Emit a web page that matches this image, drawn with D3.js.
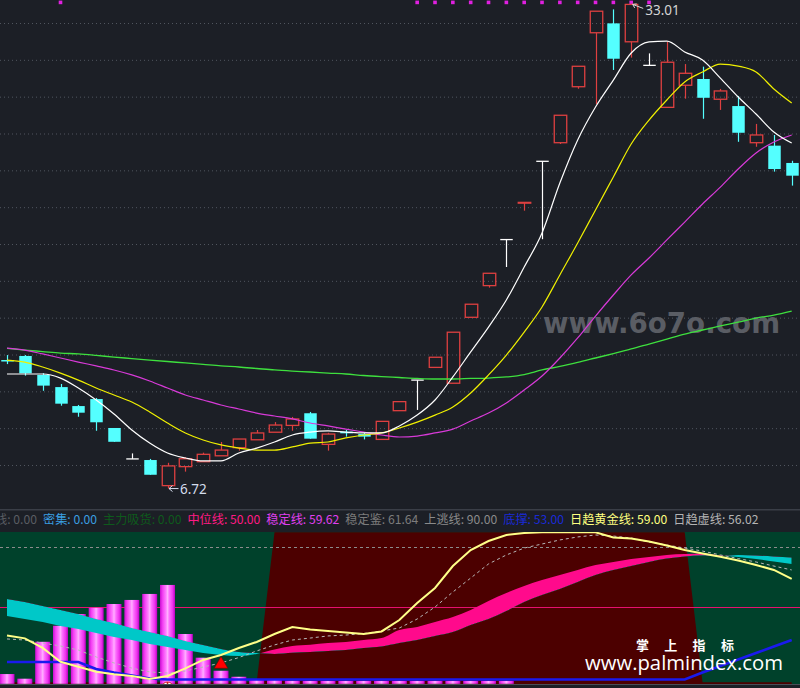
<!DOCTYPE html>
<html><head><meta charset="utf-8">
<script src="https://cdn.jsdelivr.net/npm/d3@7"></script>
<style>
html,body{margin:0;padding:0;background:#1c1f26;}
svg{display:block;}
</style></head><body>
<svg id="chart" width="800" height="688"></svg>
<script>
// ---------- price panel data (45 bars) ----------
const openP  = [13.70,13.92,12.89,12.23,11.20,11.58,10.01,8.33,8.27,6.88,7.91,8.18,8.50,8.94,9.37,9.78,10.15,10.81,9.12,9.81,9.68,9.39,10.95,12.61,13.30,12.44,16.02,17.74,20.24,22.25,24.49,25.50,28.54,31.47,31.98,30.98,29.70,27.42,28.62,28.96,27.86,27.49,25.50,25.34,24.40];
const closeP = [13.65,12.98,12.31,11.33,10.84,10.32,9.26,8.33,7.47,7.95,8.34,8.58,8.81,9.41,9.74,10.17,10.50,9.43,9.68,9.72,9.54,10.37,11.44,12.61,13.85,15.21,16.73,18.41,20.24,22.26,24.49,26.99,29.65,32.64,30.06,33.01,29.70,29.87,29.27,27.94,28.31,26.04,25.92,24.07,23.71];
const highP  = [13.97,13.97,12.99,12.40,11.26,11.64,10.01,8.63,8.33,8.12,8.43,8.67,9.25,9.41,9.90,10.33,10.61,10.88,9.75,9.90,9.75,10.37,11.44,12.61,13.85,15.21,16.73,18.41,20.24,22.26,24.49,26.99,29.65,32.64,32.74,33.01,30.35,30.98,29.77,29.63,28.42,28.04,26.52,25.92,24.52];
const lowP   = [13.48,12.85,12.03,11.22,10.62,9.86,9.26,8.33,7.47,6.72,7.64,8.18,8.50,8.78,9.37,9.78,9.86,9.43,8.78,9.54,9.39,9.39,10.95,10.99,13.30,12.44,16.02,17.63,18.75,21.81,20.26,25.43,28.43,27.60,29.45,30.12,29.70,27.42,27.89,26.80,27.28,25.55,25.28,23.93,23.17];
const ma5  = [12.94,12.94,12.94,12.72,12.18,11.53,10.77,9.90,9.19,8.65,8.38,8.22,8.22,8.65,8.92,9.25,9.63,9.79,9.85,9.79,9.74,9.74,10.12,10.71,11.53,12.78,14.14,15.49,16.96,18.75,20.60,23.31,25.65,27.44,28.90,30.37,30.97,31.02,30.43,29.99,29.01,27.98,27.06,26.08,25.48];
const ma10 = [13.70,13.59,13.32,12.99,12.61,12.18,11.80,11.42,10.88,10.28,9.74,9.36,9.09,8.92,8.81,8.81,8.98,9.19,9.25,9.47,9.63,9.74,10.01,10.33,10.71,11.15,11.91,12.89,13.97,15.22,16.58,18.32,20.05,21.85,23.64,25.43,26.73,27.82,28.80,29.34,29.77,29.66,29.34,28.42,27.66];
const ma20 = [14.35,14.24,14.03,13.81,13.59,13.38,13.16,12.89,12.56,12.18,11.80,11.53,11.26,11.04,10.82,10.66,10.50,10.28,10.12,9.95,9.79,9.63,9.52,9.57,9.74,9.95,10.39,10.82,11.37,12.07,12.83,13.81,14.90,16.09,17.23,18.32,19.24,20.22,21.19,22.17,23.09,24.07,24.94,25.54,25.92];
const ma60 = [14.33,14.24,14.16,14.08,14.03,13.95,13.86,13.78,13.70,13.62,13.54,13.46,13.38,13.32,13.24,13.16,13.10,13.05,12.99,12.94,12.86,12.80,12.75,12.70,12.67,12.67,12.70,12.72,12.78,12.91,13.16,13.35,13.57,13.81,14.05,14.30,14.57,14.84,15.11,15.33,15.55,15.76,15.98,16.14,16.36];
const priceTicks = [8,10,12,14,16,18,20,22,24,26,28,30,32];
const topSignals = [3,23,24,25,26,27,28,29,30,31,32,33,34,35,36];

// ---------- indicator panel data ----------
const histo   = [5.5,2.4,27,37.7,45.5,49.7,52.2,54.9,58.9,64.9,32.2,16.4,7.7,3.7,2,1.5,1.1,1,1,1,1,1,1,1,1,1,1,1,1,0,0,0,0,0,0,0,0,0,0,0,0,0,0,0,0];
const slowL   = [55.5,53.5,50.9,48.2,45.5,42.2,39.5,36.2,33.5,30.9,27.5,24.9,22.2,20.2,19.5,18.9,19.7,20.2,20.9,21.5,22.9,23.9,26.2,28.2,30.9,33.5,38.2,42.2,47.5,53.5,58.2,62.2,66.9,71.5,74.9,77.5,80.2,82.5,83.9,84.5,84.2,84.9,84.5,83.9,83.2];
const fastL   = [44.2,42.2,40.2,37.5,35.5,32.9,30.2,28.2,25.5,23.5,21.5,19.5,18.2,17.5,18.9,21.9,24.2,25.1,26.2,26.9,28.2,29.5,34.9,36.9,40.2,43.5,48.2,54.2,59.5,64.2,68.2,71.5,74.9,78.2,80.2,82.2,83.5,84.9,85.5,85.9,84.5,83.5,82.2,80.5,78.9];
const goldL   = [31.2,29.3,22.9,13.7,10.4,7.1,5.3,4.2,2.2,4.2,9.3,14.9,18.2,22.9,26.9,32.2,36.9,35.2,34.2,33.2,32.2,33.9,41.5,52.9,62.9,77.5,88.2,94.2,98.2,99.5,100,100,100,100,96.5,95.9,93.9,91.2,88.2,85.9,83.7,81.2,78.2,74.9,68.9];
const dashL   = [28.9,28.2,26.2,24.2,21.5,16.9,12.9,9.5,6.9,6.2,7.5,10.2,12.9,16.5,20.9,24.9,28.2,29.5,30.9,31.5,32.5,34.2,36.2,42.2,50.2,60.2,69.5,78.9,84.9,89.5,92.2,94.9,96.9,98.2,97.5,96.2,93.5,91.5,89.5,87.5,84.9,82.5,80.2,77.5,74.9];
const baseL   = [13.5,13.5,13.5,13.5,13.5,8.9,6.5,4.5,2.5,1.9,1.9,1.9,1.9,1.9,1.9,1.9,1.9,1.9,1.9,1.9,1.9,1.9,1.9,1.9,1.9,1.9,1.9,1.9,1.9,1.9,1.9,1.9,1.9,1.9,1.9,1.9,1.9,1.9,1.9,6.5,10.9,15.2,19.5,23.9,28.2];
const trendState = [0,0,0,0,0,0,0,0,0,0,0,0,0,0,0,100,100,100,100,100,100,100,100,100,100,100,100,100,100,100,100,100,100,100,100,100,100,100,100,0,0,0,0,0,0];
const buyMarks = [12];
const buyMarkVals = [12];
const circleMarks = [9];
const upperLevel = 90, midLevel = 50;

// legend
const legendNames  = ["线","密集","主力吸货","中位线","稳定线","稳定鉴","上逃线","底撑","日趋黄金线","日趋虚线"];
const legendValues = [0.00,0.00,0.00,50.00,59.62,61.64,90.00,53.00,59.00,56.02];
const legendColors = ["#5a5d63","#3a9ee0","#0e5a1c","#ff1a84","#e040f0","#7c7c7c","#8a8a8a","#1a2ad6","#ffff80","#b4b4b4"];

// ---------- drawing ----------
const W = 800, H = 688;
const BG = "#1c1f26";
const svg = d3.select("#chart");
svg.append("rect").attr("width",W).attr("height",H).attr("fill",BG);
const defs = svg.append("defs");
defs.append("clipPath").attr("id","clipTop").append("rect").attr("x",0).attr("y",0).attr("width",W).attr("height",509);
defs.append("clipPath").attr("id","clipBot").append("rect").attr("x",0).attr("y",532).attr("width",W).attr("height",152);

const n = closeP.length;
const idx = d3.range(n);
const x = d3.scaleLinear().domain([0, n-1]).range([7, 791.7]);
const yP = d3.scaleLinear().domain([8, 32]).range([465, 23]);
const yI = d3.scaleLinear().domain([0, 100]).range([682.3, 532.3]);
const step = x(1) - x(0);

// ===== top panel =====
const topG = svg.append("g").attr("clip-path","url(#clipTop)");
const grid = topG.append("g").call(d3.axisRight(yP).tickValues(priceTicks).tickSize(W).tickFormat(""));
grid.select(".domain").remove();
grid.selectAll("line").attr("stroke","#50555e").attr("stroke-dasharray","1,3");

// watermark
topG.append("text").attr("x",543).attr("y",333)
  .attr("font-family","DejaVu Sans, sans-serif").attr("font-weight","bold").attr("font-size",28)
  .attr("textLength",237).attr("lengthAdjust","spacingAndGlyphs")
  .attr("fill","#5a5d64").text("www.6o7o.com");

// signal squares
topG.selectAll("rect.sig").data(topSignals).join("rect").attr("class","sig")
  .attr("x",d=>x(d)-1.8).attr("y",0.6).attr("width",3.6).attr("height",3.6).attr("fill","#e020e0");

const RED = "#de4040", CYAN = "#54ffff", FLAT = "#ffffff";
const bw = step*0.7;
const cg = topG.append("g");
idx.forEach(i=>{
  const cx = Math.round(x(i)) + 0.5;
  const o = openP[i], c = closeP[i], h = highP[i], l = lowP[i];
  const g = cg.append("g");
  if (c > o) {
    const yt = yP(c), yb = yP(o);
    g.append("line").attr("x1",cx).attr("x2",cx).attr("y1",yP(h)).attr("y2",yt).attr("stroke",RED).attr("stroke-width",1.2);
    g.append("line").attr("x1",cx).attr("x2",cx).attr("y1",yb).attr("y2",yP(l)).attr("stroke",RED).attr("stroke-width",1.2);
    g.append("rect").attr("x",cx-bw/2).attr("y",yt).attr("width",bw).attr("height",Math.max(yb-yt,0.8))
      .attr("fill","none").attr("stroke",RED).attr("stroke-width",1.3);
  } else if (c < o) {
    g.append("line").attr("x1",cx).attr("x2",cx).attr("y1",yP(h)).attr("y2",yP(l)).attr("stroke",CYAN).attr("stroke-width",1.2);
    g.append("rect").attr("x",cx-bw/2).attr("y",yP(o)).attr("width",bw).attr("height",Math.max(yP(c)-yP(o),1.5)).attr("fill",CYAN);
  } else {
    g.append("line").attr("x1",cx).attr("x2",cx).attr("y1",yP(h)).attr("y2",yP(l)).attr("stroke",FLAT).attr("stroke-width",1.2);
    g.append("line").attr("x1",cx-bw/2).attr("x2",cx+bw/2).attr("y1",yP(o)).attr("y2",yP(o)).attr("stroke",FLAT).attr("stroke-width",1.3);
  }
});

const lineP = d3.line().x((d,i)=>x(i)).y(d=>yP(d)).curve(d3.curveMonotoneX);
[[ma60,"#3ee03e",1.3],[ma20,"#d83ad8",1.2],[ma10,"#f0f000",1.2],[ma5,"#ffffff",1.2]].forEach(([arr,col,w])=>{
  topG.append("path").attr("d",lineP(arr)).attr("fill","none").attr("stroke",col).attr("stroke-width",w);
});

// high / low labels
const hi = d3.maxIndex(highP), lo = d3.minIndex(lowP);
const hx = x(hi), hy = yP(highP[hi]);
topG.append("path").attr("d",`M${hx+1.5},${hy} L${hx+12},${hy+4} M${hx+1.5},${hy} l4,-0.5 M${hx+1.5},${hy} l2,3.5`)
  .attr("stroke","#d8d8d8").attr("fill","none").attr("stroke-width",1);
topG.append("text").attr("x",hx+14).attr("y",hy+10.5).attr("fill","#d4d4d4")
  .attr("font-family","Noto Sans, sans-serif").attr("font-size",13.5).text(d3.format(".2f")(highP[hi]));
const lx = x(lo), ly = yP(lowP[lo]);
topG.append("path").attr("d",`M${lx+1.5},${ly} L${lx+11},${ly} M${lx+1.5},${ly} l3.5,-3 M${lx+1.5},${ly} l3.5,3`)
  .attr("stroke","#d8e0f0").attr("fill","none").attr("stroke-width",1);
topG.append("text").attr("x",lx+12.5).attr("y",ly+5).attr("fill","#d4dcec")
  .attr("font-family","Noto Sans, sans-serif").attr("font-size",13.5).text(d3.format(".2f")(lowP[lo]));

// separator
svg.append("rect").attr("x",0).attr("y",509).attr("width",W).attr("height",1.5).attr("fill","#3a3e47");

// ===== legend row =====
const leg = svg.append("g").attr("font-family","Noto Sans CJK SC, sans-serif");
const items = legendNames.map((nm,k)=>({t: nm + ": " + d3.format(".2f")(legendValues[k]), c: legendColors[k]}));
const texts = leg.selectAll("text").data(items).join("text").attr("y",524).attr("fill",d=>d.c).text(d=>d.t);
const gap = 6, legStart = 43, legEnd = 759;
function measure(fs){
  texts.attr("font-size",fs);
  const w = []; texts.each(function(){ w.push(this.getComputedTextLength()); });
  return w;
}
let fs0 = 12.5;
let wv = measure(fs0);
const sumW = d3.sum(wv.slice(1));
const fs = fs0 * (legEnd - legStart - gap*(items.length-2)) / sumW;
wv = measure(fs);
const pos = [];
pos[1] = legStart;
for (let k=2;k<items.length;k++) pos[k] = pos[k-1] + wv[k-1] + gap;
pos[0] = pos[1] - gap - wv[0];
texts.attr("x",(d,k)=>pos[k]);

// ===== bottom panel =====
const bot = svg.append("g").attr("clip-path","url(#clipBot)");
bot.append("rect").attr("x",0).attr("y",532).attr("width",W).attr("height",152).attr("fill","#00412b");
bot.append("path").datum(trendState)
  .attr("d", d3.area().x((d,i)=>x(i)).y0(684).y1(d=>yI(d)))
  .attr("fill","#4c0000");

bot.append("line").attr("x1",0).attr("x2",W).attr("y1",Math.round(yI(upperLevel))+0.5).attr("y2",Math.round(yI(upperLevel))+0.5)
  .attr("stroke","#8c8c8c").attr("stroke-dasharray","3,3").attr("stroke-width",1);
bot.append("line").attr("x1",0).attr("x2",W).attr("y1",Math.round(yI(midLevel))+0.5).attr("y2",Math.round(yI(midLevel))+0.5)
  .attr("stroke","#e8106e").attr("stroke-width",1.2);

// bars with cylinder gradient
const grad = defs.append("linearGradient").attr("id","barGrad").attr("x1","0").attr("x2","1").attr("y1","0").attr("y2","0");
[[0,"#c810d0"],[0.18,"#f440f4"],[0.4,"#ff80ff"],[0.5,"#ffb0ff"],[0.62,"#ff70ff"],[0.85,"#ec30ec"],[1,"#b800c0"]].forEach(([o,c])=>
  grad.append("stop").attr("offset",o).attr("stop-color",c));
const barW = 15;
bot.selectAll("rect.bar").data(histo).join("rect").attr("class","bar")
  .attr("x",(d,i)=>x(i)-barW/2).attr("y",d=>yI(d)).attr("width",barW)
  .attr("height",d=>d>0 ? yI(0)-yI(d)+1.5 : 0).attr("fill","url(#barGrad)");

// band between fast & slow lines (difference chart)
const areaBand = d3.area().x((d,i)=>x(i)).y0((d,i)=>yI(fastL[i])).y1((d,i)=>yI(slowL[i])).curve(d3.curveMonotoneX);
const clipAbove = defs.append("clipPath").attr("id","clipAbove");
clipAbove.append("path").datum(slowL).attr("d", d3.area().x((d,i)=>x(i)).y0(520).y1(d=>yI(d)).curve(d3.curveMonotoneX));
const clipBelow = defs.append("clipPath").attr("id","clipBelow");
clipBelow.append("path").datum(slowL).attr("d", d3.area().x((d,i)=>x(i)).y0(700).y1(d=>yI(d)).curve(d3.curveMonotoneX));
bot.append("path").datum(idx).attr("d",areaBand).attr("fill","#ff0a8c").attr("clip-path","url(#clipAbove)");
bot.append("path").datum(idx).attr("d",areaBand).attr("fill","#00c8c8").attr("clip-path","url(#clipBelow)");

const lineI = d3.line().x((d,i)=>x(i)).y(d=>yI(d));
bot.append("path").attr("d",lineI(dashL)).attr("fill","none").attr("stroke","#b8b8b8").attr("stroke-width",1).attr("stroke-dasharray","3,3");
bot.append("path").attr("d",lineI(baseL)).attr("fill","none").attr("stroke","#1a1aee").attr("stroke-width",2.6);
bot.append("path").attr("d",lineI(goldL)).attr("fill","none").attr("stroke","#ffff88").attr("stroke-width",2);

// markers
bot.selectAll("path.buy").data(buyMarks).join("path").attr("class","buy")
  .attr("transform",(d,k)=>`translate(${x(d)},${yI(buyMarkVals[k])})`)
  .attr("d", d3.symbol().type(d3.symbolTriangle).size(80)).attr("fill","#ff0000").attr("stroke","#700000").attr("stroke-width",0.6);
circleMarks.forEach(d=>{
  bot.append("circle").attr("cx",x(d)).attr("cy",688).attr("r",6).attr("fill","#ffffff").attr("stroke","#d02020").attr("stroke-width",1);
  bot.append("line").attr("x1",x(d)).attr("x2",x(d)).attr("y1",682).attr("y2",688).attr("stroke","#d02020").attr("stroke-width",1.5);
});

// watermark bottom
bot.append("text").attr("x",636).attr("y",649.5).attr("fill","#ffffff").attr("font-weight","bold")
  .attr("font-family","Noto Sans CJK SC, sans-serif").attr("font-size",13).attr("letter-spacing",15.3).text("掌上指标");
bot.append("text").attr("x",585).attr("y",670).attr("fill","#ffffff")
  .attr("font-family","Open Sans, Noto Sans, sans-serif").attr("font-size",19.5)
  .attr("textLength",198).attr("lengthAdjust","spacingAndGlyphs").text("www.palmindex.com");

// bottom strip
svg.append("rect").attr("x",0).attr("y",684).attr("width",W).attr("height",4).attr("fill",BG);
svg.append("rect").attr("x",0).attr("y",684).attr("width",W).attr("height",1).attr("fill","#4a4e57");
</script>
</body></html>
